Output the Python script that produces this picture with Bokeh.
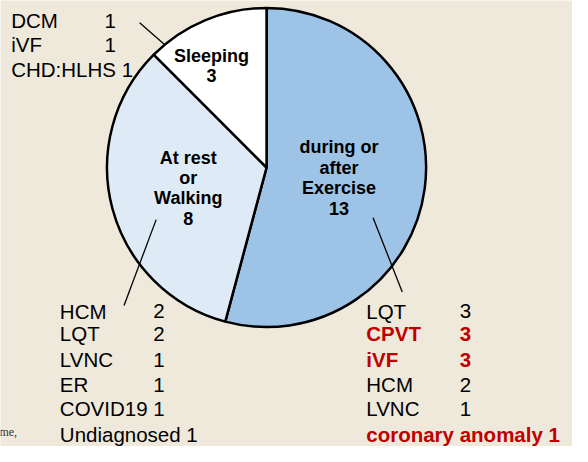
from bokeh.plotting import figure
from bokeh.models import Range1d
from bokeh.core.properties import value
from bokeh.embed import file_html
from bokeh.resources import INLINE
import numpy as np

# ---- data ----
categories = ["during or after Exercise", "At rest or Walking", "Sleeping"]
counts = [13, 8, 3]
cat_lines = [["during or", "after", "Exercise"], ["At rest", "or", "Walking"], ["Sleeping"]]
cat_colors = ["#9dc3e6", "#deebf7", "#ffffff"]

exercise_dx = ["LQT", "CPVT", "iVF", "HCM", "LVNC", "coronary anomaly"]
exercise_n = [3, 3, 3, 2, 1, 1]
exercise_red = [False, True, True, False, False, True]

rest_dx = ["HCM", "LQT", "LVNC", "ER", "COVID19", "Undiagnosed"]
rest_n = [2, 2, 1, 1, 1, 1]

sleep_dx = ["DCM", "iVF", "CHD:HLHS"]
sleep_n = [1, 1, 1]

# ---- layout (reference pixel coordinates, whole 588x462 area) ----
H = 462
BG = "#efe9db"
FONT = value("Liberation Sans")
def Y(py):
    return H - py

p = figure(width=572, height=446, output_backend="svg", toolbar_location=None,
           x_range=Range1d(0, 588), y_range=Range1d(0, 462), min_border=0)
p.axis.visible = False
p.grid.visible = False
p.outline_line_color = None
p.background_fill_color = BG
p.border_fill_color = BG

cx, cy, r = 273.5, 173, 164
total = sum(counts)
cum = np.concatenate([[0], np.cumsum(counts)])
starts = [90 - 360 * cum[i] / total for i in range(len(counts))]
ends = [90 - 360 * cum[i + 1] / total for i in range(len(counts))]
p.wedge(x=[cx] * 3, y=[Y(cy)] * 3, radius=r, start_angle=starts, end_angle=ends,
        start_angle_units="deg", end_angle_units="deg", direction="clock",
        fill_color=cat_colors, line_color="black", line_width=2.5)

# category labels
label_pos = [(348, 152), (193, 163), (217, 57)]
lh = 21
for (lx, ly), lines, n in zip(label_pos, cat_lines, counts):
    allines = lines + [str(n)]
    p.text(x=[lx] * len(allines), y=[Y(ly + i * lh) for i in range(len(allines))],
           text=allines, text_align="center", text_baseline="middle",
           text_font=FONT, text_font_style="bold", text_font_size="18px",
           text_color="black")

# leader lines
p.segment(x0=[383, 160, 143], y0=[Y(225), Y(227), Y(23)],
          x1=[413, 127, 168], y1=[Y(302), Y(316), Y(45)],
          line_color="black", line_width=1.3)

def table(names, nums, x_name, x_num, rows, reds=None):
    for i, (nm, n, ry) in enumerate(zip(names, nums, rows)):
        red = reds[i] if reds else False
        col = "#c00000" if red else "black"
        style = "bold" if red else "normal"
        kw = dict(text_baseline="middle", text_align="left", text_font=FONT,
                  text_font_size="20.5px", text_color=col, text_font_style=style)
        if len(nm) >= 7:
            p.text(x=[x_name], y=[Y(ry)], text=[f"{nm} {n}"], **kw)
        else:
            p.text(x=[x_name], y=[Y(ry)], text=[nm], **kw)
            p.text(x=[x_num], y=[Y(ry)], text=[str(n)], **kw)

table(sleep_dx, sleep_n, 11, 107, [21, 46, 71])
table(rest_dx, rest_n, 61, 157, [322, 345, 372, 398, 423, 450])
table(exercise_dx, exercise_n, 376, 472, [322, 345, 372, 398, 423, 450], exercise_red)

# stray slide text fragment
p.text(x=[17], y=[Y(447)], text=["me,"], text_align="right", text_baseline="middle",
       text_font=value("Liberation Serif"), text_font_size="12px", text_color="#333333")

open("out.html", "w").write(file_html(p, INLINE))
